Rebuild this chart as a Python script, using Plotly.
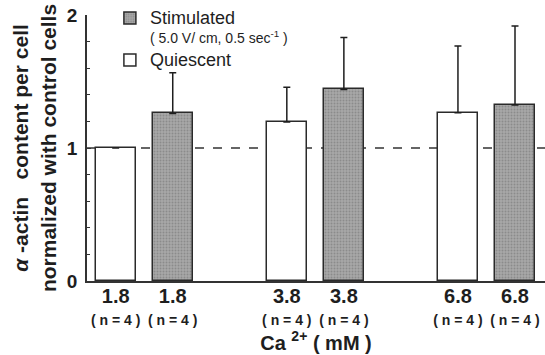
import plotly.graph_objects as go

# ---- data ----
conc_labels = ["1.8", "1.8", "3.8", "3.8", "6.8", "6.8"]
n_labels = ["( n = 4 )"] * 6
x_quiescent = [0, 3, 6]
y_quiescent = [1.0, 1.195, 1.265]
top_quiescent = [None, 1.457, 1.767]
x_stimulated = [1, 4, 7]
y_stimulated = [1.26, 1.44, 1.323]
top_stimulated = [1.566, 1.83, 1.917]
tick_positions = [0, 1, 3, 4, 6, 7]

FONT = "Liberation Sans, Arial, sans-serif"
INK = "#1e1e1e"


def err(vals, tops):
    return [None if t is None else t - v for v, t in zip(vals, tops)]


fig = go.Figure()
fig.add_trace(go.Bar(
    x=x_stimulated, y=y_stimulated, width=0.70,
    name="<span style='font-size:18px'>Stimulated</span><br><span style='font-size:14px'>( 5.0 V/ cm, 0.5 sec<sup>-1</sup> )</span>",
    marker=dict(color="#9c9c9c", line=dict(color="#2a2a2a", width=1.5),
                pattern=dict(shape=".", fgcolor="#6e6e6e", bgcolor="#a8a8a8", size=3, solidity=0.35)),
    error_y=dict(type="data", symmetric=False, array=err(y_stimulated, top_stimulated),
                 arrayminus=[0, 0, 0], color=INK, thickness=1.5, width=3.5),
))
fig.add_trace(go.Bar(
    x=x_quiescent, y=y_quiescent, width=0.70,
    name="<span style='font-size:18px'>Quiescent</span>",
    marker=dict(color="white", line=dict(color="#2a2a2a", width=1.5)),
    error_y=dict(type="data", symmetric=False, array=err(y_quiescent, top_quiescent),
                 arrayminus=[0, 0, 0], color=INK, thickness=1.5, width=3.5),
))

fig.add_shape(type="line", xref="paper", yref="y", x0=0, x1=1, y0=1, y1=1,
              line=dict(color="#333", width=1.3, dash="dash"), layer="below")

ticktext = [f"<b style='font-size:20px'>{c}</b><br><b style='font-size:14px'>{n}</b>"
            for c, n in zip(conc_labels, n_labels)]

fig.update_layout(
    width=545, height=355,
    margin=dict(l=87, r=0, t=15, b=74, autoexpand=False),
    paper_bgcolor="white", plot_bgcolor="white",
    font=dict(family=FONT, color=INK),
    showlegend=True,
    legend=dict(x=0.05, y=1.05, xanchor="left", yanchor="top", bgcolor="rgba(0,0,0,0)",
                font=dict(size=15, family=FONT, color=INK), traceorder="normal",
                valign="top", tracegroupgap=0, itemwidth=30),
    bargap=0,
    xaxis=dict(range=[-0.503, 7.526], tickmode="array", tickvals=tick_positions, ticktext=ticktext,
               tickfont=dict(size=17, family=FONT, color=INK), ticks="", showline=True,
               linecolor="#333", linewidth=1.5, showgrid=False, zeroline=False,
               title=dict(text="<b>Ca <sup>2+</sup> ( mM )</b>", font=dict(size=20, family=FONT, color=INK), standoff=2)),
    yaxis=dict(range=[0, 2], tickmode="array", tickvals=[0, 1, 2], ticktext=["<b>0</b>", "<b>1</b>", "<b>2</b>"],
               tickfont=dict(size=19, family=FONT, color=INK), ticks="inside", ticklen=4, tickcolor="#333",
               minor=dict(dtick=0.2, ticks="inside", ticklen=3, tickcolor="#333"),
               showline=True, linecolor="#333", linewidth=1.5, showgrid=False, zeroline=False,
               ticklabelstandoff=4,
               title=dict(text="<b><i>α</i> -actin &nbsp; content per cell<br>normalized with control cells</b>",
                          font=dict(size=21, family=FONT, color=INK), standoff=5)),
)

fig.write_html("out.html", config={"displayModeBar": False},
               post_script="document.body.style.margin='0';")
